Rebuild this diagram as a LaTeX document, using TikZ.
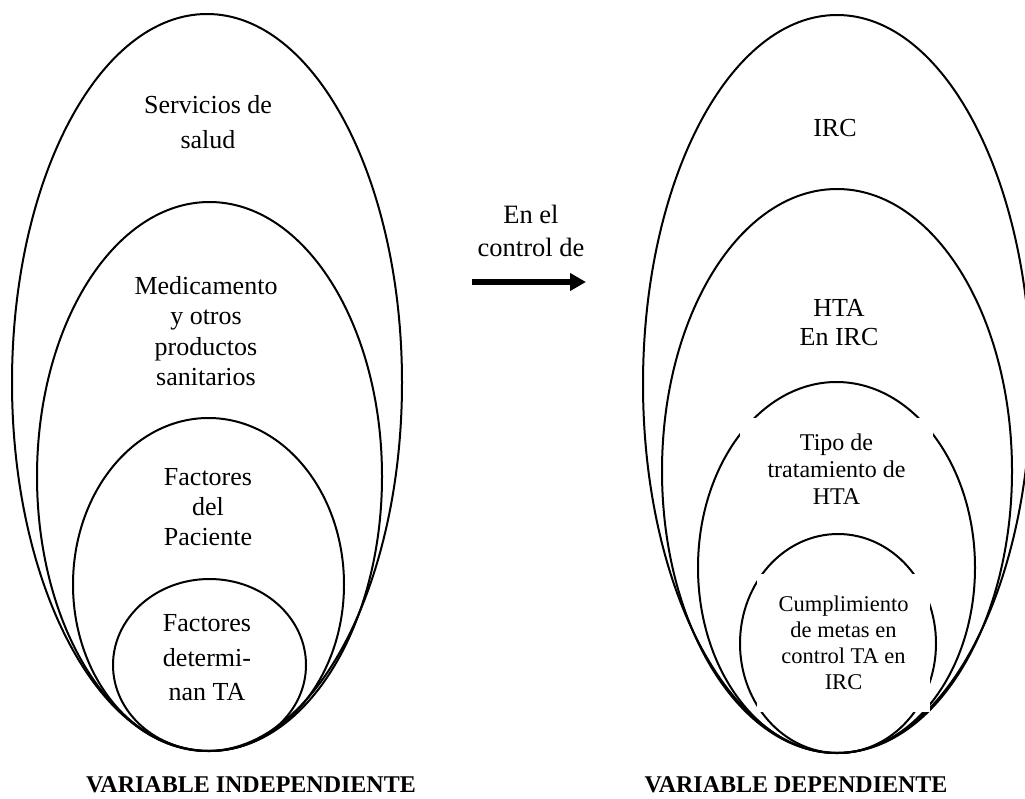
\documentclass[tikz,border=0pt]{standalone}
\usepackage{fontspec}
\setmainfont{Liberation Serif}
\usetikzlibrary{arrows.meta,shapes,positioning}
\tikzstyle{oval}=[ellipse, draw, line width=2pt, inner sep=0pt]
\tikzstyle{txt}=[align=center, inner sep=0pt]
\tikzstyle{tbox}=[txt, fill=white]
\tikzstyle{flecha}=[draw, line width=6pt, -{Triangle[length=16pt,width=17pt]}]

\begin{document}
\begin{tikzpicture}[x=1pt,y=-1pt]
\useasboundingbox (0,0) rectangle (1025,798);

\node [oval, minimum width=390, minimum height=737] (ind1) at (207,382.5) {};
\node [oval, minimum width=345, minimum height=549] (ind2) at (209.5,476.5) {};
\node [oval, minimum width=271, minimum height=333] (ind3) at (208.5,584.5) {};
\node [oval, minimum width=193, minimum height=172] (ind4) at (209.5,665) {};

\node [txt, font=\fontsize{26}{35}\selectfont] (servicios) at (208,122) {Servicios de\\salud};
\node [txt, font=\fontsize{26}{30.5}\selectfont] (medicamento) at (206,331) {Medicamento\\y otros\\productos\\sanitarios};
\node [txt, font=\fontsize{26}{30}\selectfont] (paciente) at (208,507) {Factores\\del\\Paciente};
\node [txt, font=\fontsize{26}{34.5}\selectfont] (determinan) at (207,658) {Factores\\determi-\\nan TA};

\node [oval, minimum width=388, minimum height=738] (dep1) at (837,384) {};
\node [oval, minimum width=350, minimum height=564] (dep2) at (837,471) {};
\node [oval, minimum width=277, minimum height=371] (dep3) at (836.5,567.5) {};
\node [oval, minimum width=196, minimum height=219] (dep4) at (838,643.5) {};

\node [txt, font=\fontsize{26}{30}\selectfont] (irc) at (835,128) {IRC};
\begin{scope}
\clip (700,280) rectangle (980,346);
\node [tbox, font=\fontsize{26}{29}\selectfont] (hta) at (839,323) {HTA\\En IRC};
\end{scope}
\node [tbox, font=\fontsize{24}{27}\selectfont, minimum width=193, minimum height=103] (tipo) at (836.5,469) {Tipo de\\tratamiento de\\HTA};
\node [tbox, font=\fontsize{22.5}{26}\selectfont, minimum width=173, minimum height=138] (metas) at (843.5,643) {Cumplimiento\\de metas en\\control TA en\\IRC};

\node [txt, font=\fontsize{26.5}{33}\selectfont] (control) at (531,231) {En el\\control de};
\coordinate (a0) at (472,282);
\coordinate (a1) at (586,282);
\draw [flecha] (a0) -- (a1);

\node [txt, font=\bfseries\fontsize{24}{28}\selectfont] (vind) at (251,785) {VARIABLE INDEPENDIENTE};
\node [txt, font=\bfseries\fontsize{24}{28}\selectfont] (vdep) at (796,785) {VARIABLE DEPENDIENTE};
\end{tikzpicture}
\end{document}
